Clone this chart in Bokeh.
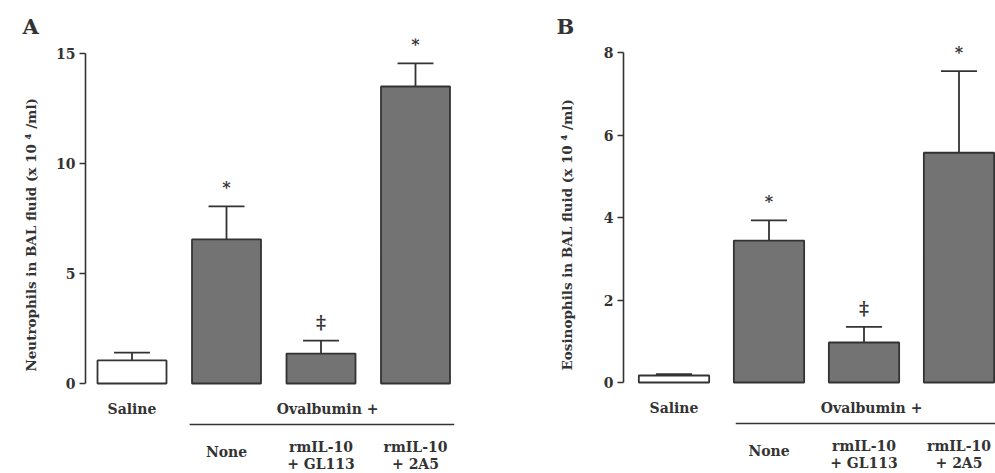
from bokeh.plotting import figure
from bokeh.models import Range1d, FixedTicker, ColumnDataSource
from bokeh.layouts import row
from bokeh.embed import file_html
from bokeh.resources import INLINE
from bokeh.core.properties import value

# ---- data ----
groups = ["Saline", "None", "rmIL-10 + GL113", "rmIL-10 + 2A5"]
neutrophils = [1.05, 6.55, 1.36, 13.5]
neutrophils_err = [1.4, 8.05, 1.95, 14.55]
eosinophils = [0.17, 3.44, 0.97, 5.57]
eosinophils_err = [0.2, 3.93, 1.35, 7.55]
marks = ["", "*", "\u2021", "*"]
row1_labels = ["Saline", "", "", ""]
row2_labels = ["", "", "rmIL-10", "rmIL-10"]
none_labels = ["", "None", "", ""]
row3_labels = ["", "", "+ GL113", "+ 2A5"]
ticks_a = [0, 5, 10, 15]
ticks_b = [0, 2, 4, 6, 8]

FONT = "DejaVu Serif"
INK = "#333333"
BAR = "#737373"
H = 473
TOP = 38  # space above the frame, holds the panel letter
PAD = "\u00a0" * 9  # lifts the centred y-axis title to where the reference has it


def panel(letter, letter_x, vals, errs, ticks, ylabel, width, border_left, xr,
          ppu_y, zero_page, standoff, bar_w, line_x, oval_x):
    yr = (-(H - zero_page) / ppu_y, (zero_page - TOP) / ppu_y)
    p = figure(width=width, height=H, output_backend="svg", toolbar_location=None,
               x_range=Range1d(*xr), y_range=Range1d(*yr),
               min_border_left=border_left, min_border_right=0,
               min_border_top=TOP, min_border_bottom=0)
    p.outline_line_color = None
    p.grid.visible = False
    p.xaxis.visible = False
    p.background_fill_color = "white"

    p.title.text = letter
    p.title.align = "left"
    p.title.offset = letter_x - border_left
    p.title.text_font = FONT
    p.title.text_font_style = "bold"
    p.title.text_font_size = "21px"
    p.title.text_color = INK
    p.title.standoff = 0

    ax = p.yaxis[0]
    ax.ticker = FixedTicker(ticks=ticks)
    ax.bounds = (ticks[0], ticks[-1])
    ax.minor_tick_line_color = None
    ax.major_tick_out = 6
    ax.major_tick_in = 0
    ax.axis_line_color = INK
    ax.axis_line_width = 1.6
    ax.major_tick_line_color = INK
    ax.major_tick_line_width = 1.6
    ax.major_label_text_font = FONT
    ax.major_label_text_font_style = "bold"
    ax.major_label_text_font_size = "14px"
    ax.major_label_text_color = INK
    ax.major_label_standoff = 4
    ax.axis_label = PAD + ylabel
    ax.axis_label_text_font = FONT
    ax.axis_label_text_font_style = "bold"
    ax.axis_label_text_font_size = "13.5px"
    ax.axis_label_text_color = INK
    ax.axis_label_standoff = standoff

    def y(page):
        return (zero_page - page) / ppu_y

    px = 1.0 / ppu_y
    xs = list(range(len(groups)))
    fills = ["white"] + [BAR] * (len(groups) - 1)
    mark_sizes = ["19px" if m == "\u2021" else "16px" for m in marks]
    src = ColumnDataSource(dict(x=xs, top=vals, err=errs, fill=fills, mark=marks,
                                msize=mark_sizes,
                                r1=row1_labels, r2=row2_labels, r3=row3_labels,
                                rn=none_labels,
                                mark_y=[e + 19 * px for e in errs]))
    # error bars (upper only)
    p.segment(x0="x", x1="x", y0="top", y1="err", source=src, line_color=INK, line_width=1.8)
    p.segment(x0=[x - 0.19 for x in xs], x1=[x + 0.19 for x in xs], y0=errs, y1=errs,
              line_color=INK, line_width=1.8)
    p.vbar(x="x", top="top", bottom=0, width=bar_w, source=src, fill_color="fill",
           line_color=INK, line_width=1.8)
    p.text(x="x", y="mark_y", text="mark", source=src, text_align="center",
           text_baseline="middle", text_font=value(FONT), text_font_style="bold",
           text_font_size="msize", text_color=INK)

    common = dict(text_align="center", text_baseline="middle", text_font=value(FONT),
                  text_font_style="bold", text_font_size="14px", text_color=INK)
    p.text(x="x", y=y(zero_page + 25), text="r1", source=src, **common)
    p.text(x=[oval_x], y=[y(zero_page + 25)], text=["Ovalbumin +"], **common)
    p.segment(x0=[line_x[0]], x1=[line_x[1]], y0=[y(zero_page + 41)], y1=[y(zero_page + 41)],
              line_color=INK, line_width=1.6)
    p.text(x="x", y=y(zero_page + 68), text="rn", source=src, **common)
    p.text(x="x", y=y(zero_page + 63), text="r2", source=src, **common)
    p.text(x="x", y=y(zero_page + 80), text="r3", source=src, **common)
    return p


# Panel A: page x 0..495, axis at x=85, zero at y=383
xa = (-(131.5 - 85) / 94.5, (495 - 131.5) / 94.5)
pa = panel("A", 22, neutrophils, neutrophils_err, ticks_a,
           "Neutrophils in BAL fluid (x 10 \u2074 /ml)", 495, 85, xa,
           22.0, 383.0, 14, 0.73, (0.61, 3.41), 2.07)

# Panel B: page x 495..995, axis at 623, zero at y=382
xb = (-(673.5 - 623) / 95.0, (995 - 673.5) / 95.0)
pb = panel("B", 61, eosinophils, eosinophils_err, ticks_b,
           "Eosinophils in BAL fluid (x 10 \u2074 /ml)", 500, 128, xb,
           41.25, 382.0, 26, 0.74, (0.65, 3.45), 2.08)

layout = row(pa, pb)
open("out.html", "w").write(file_html(layout, INLINE))
